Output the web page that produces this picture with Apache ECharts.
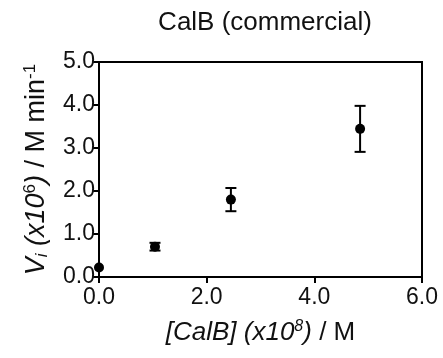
<!DOCTYPE html>
<html>
<head>
<meta charset="utf-8">
<script src="https://cdn.jsdelivr.net/npm/echarts@6/dist/echarts.min.js"></script>
<style>
html,body{margin:0;padding:0;background:#fff;}
#chart{width:443px;height:358px;}
</style>
</head>
<body>
<div id="chart"></div>
<script>
// Data
const xValues = [0.0, 1.04, 2.45, 4.85];
const yValues = [0.22, 0.705, 1.80, 3.445];
const yErrors = [0.0, 0.09, 0.27, 0.535];
const xTicks = [0, 2, 4, 6];
const yTicks = [0, 1, 2, 3, 4, 5];
const titleText = 'CalB (commercial)';

const FONT = 'Liberation Sans, Arial, sans-serif';
const points = xValues.map((x, i) => [x, yValues[i]]);
const errData = xValues.map((x, i) => [x, yValues[i] - yErrors[i], yValues[i] + yErrors[i]]);

const chart = echarts.init(document.getElementById('chart'), null, {renderer: 'canvas'});
chart.setOption({
  animation: false,
  backgroundColor: '#fff',
  title: {
    text: titleText,
    left: 260,
    top: 5,
    textAlign: 'center',
    textStyle: {fontFamily: FONT, fontSize: 26, fontWeight: 'normal', color: '#111'}
  },
  grid: {
    left: 99, right: 21, top: 62, bottom: 81,
    show: true, borderColor: '#000', borderWidth: 2, backgroundColor: 'transparent'
  },
  xAxis: {
    type: 'value', min: xTicks[0], max: xTicks[xTicks.length - 1], interval: 2,
    axisLine: {show: true, onZero: false, lineStyle: {color: '#000', width: 2}},
    axisTick: {show: true, length: 6, lineStyle: {color: '#000', width: 2}},
    splitLine: {show: false},
    axisLabel: {
      fontFamily: FONT, fontSize: 23, color: '#111', margin: 9,
      formatter: v => v.toFixed(1)
    },
    name: '{i|[CalB] (x10}{sup|8}{i|)} / M',
    nameLocation: 'middle',
    nameGap: 42,
    nameTextStyle: {
      fontFamily: FONT, fontSize: 26, color: '#111',
      rich: {
        i: {fontFamily: FONT, fontSize: 26, fontStyle: 'italic', color: '#111'},
        sup: {fontFamily: FONT, fontSize: 16, fontStyle: 'italic', color: '#111', verticalAlign: 'bottom', padding: [0, 0, 12, 0]}
      }
    }
  },
  yAxis: {
    type: 'value', min: yTicks[0], max: yTicks[yTicks.length - 1], interval: 1,
    axisLine: {show: true, onZero: false, lineStyle: {color: '#000', width: 2}},
    axisTick: {show: true, length: 6, lineStyle: {color: '#000', width: 2}},
    splitLine: {show: false},
    axisLabel: {
      fontFamily: FONT, fontSize: 23, color: '#111', margin: 4,
      formatter: v => v.toFixed(1)
    },
    name: '{i|V}{sub|i}{i| (x10}{sup|6}{i|)} / M min{sup|-1}',
    nameLocation: 'middle',
    nameGap: 48,
    nameTextStyle: {
      fontFamily: FONT, fontSize: 27, color: '#111',
      rich: {
        i: {fontFamily: FONT, fontSize: 27, fontStyle: 'italic', color: '#111'},
        sub: {fontFamily: FONT, fontSize: 17, fontStyle: 'italic', color: '#111', verticalAlign: 'bottom', padding: [0, 0, 0, 0]},
        sup: {fontFamily: FONT, fontSize: 17, color: '#111', verticalAlign: 'bottom', padding: [0, 0, 12, 0]}
      }
    }
  },
  series: [
    {
      type: 'custom',
      data: errData,
      z: 3,
      renderItem: function (params, api) {
        const x = api.value(0), lo = api.value(1), hi = api.value(2);
        if (hi - lo <= 0) return null;
        const pLo = api.coord([x, lo]);
        const pHi = api.coord([x, hi]);
        const cap = 5.5;
        const style = {stroke: '#000', lineWidth: 2};
        return {
          type: 'group',
          children: [
            {type: 'line', shape: {x1: pLo[0], y1: pLo[1], x2: pHi[0], y2: pHi[1]}, style},
            {type: 'line', shape: {x1: pLo[0] - cap, y1: pLo[1], x2: pLo[0] + cap, y2: pLo[1]}, style},
            {type: 'line', shape: {x1: pHi[0] - cap, y1: pHi[1], x2: pHi[0] + cap, y2: pHi[1]}, style}
          ]
        };
      }
    },
    {
      type: 'scatter',
      data: points,
      symbol: 'circle',
      symbolSize: 10,
      z: 4,
      itemStyle: {color: '#000', opacity: 1}
    }
  ]
});
</script>
</body>
</html>
